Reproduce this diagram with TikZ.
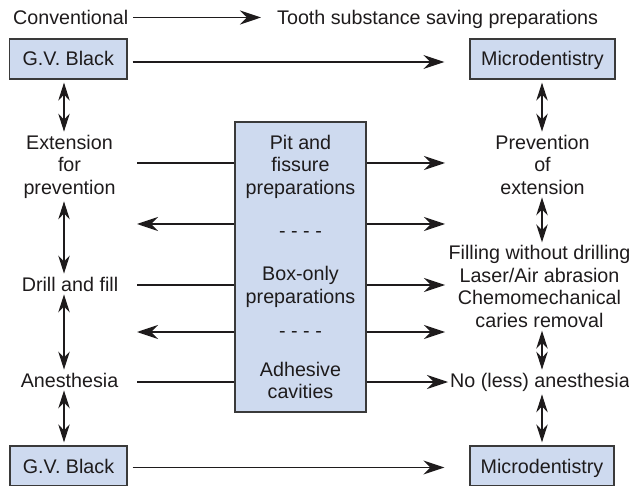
\documentclass[tikz,border=0pt]{standalone}
\usepackage{fontspec}
\setmainfont{Liberation Sans}
\usetikzlibrary{arrows.meta}
\definecolor{ink}{HTML}{1E1B1C}
\definecolor{boxfill}{RGB}{206,218,239}
\definecolor{edge}{HTML}{3A3A3A}
\begin{document}
\begin{tikzpicture}[x=1pt,y=-1pt,
  every node/.style={inner sep=0pt,text=ink,font=\fontsize{19.7}{22.5}\selectfont},
  lbl/.style={align=center},
  boxed/.style={draw=edge,fill=boxfill,line width=1.3pt,align=center,text height=14pt,text depth=0pt},
  ln/.style={draw=ink,line width=1.25pt},
  arr/.style={ln,-{Stealth[length=21pt,width=14pt,inset=7pt]}},
  dbl/.style={draw=ink,line width=1.1pt,{Stealth[length=18pt,width=11.5pt,inset=6pt]}-{Stealth[length=18pt,width=11.5pt,inset=6pt]},shorten <=3pt,shorten >=3pt}]
\useasboundingbox (0,0) rectangle (629,486);
\clip (0,0) rectangle (629,486);

% header
\node[lbl,anchor=west] (conv) at (13,17.5) {Conventional};
\node[lbl,anchor=west] (tooth) at (277,19.5) {Tooth substance saving preparations};

% boxes
\node[boxed,minimum width=117.5pt,minimum height=40pt] (gv1) at (68.25,59) {G.V. Black};
\node[boxed,minimum width=145pt,minimum height=40pt] (md1) at (542.5,59) {Microdentistry};
\node[boxed,minimum width=117pt,minimum height=40pt] (gv2) at (68.5,466) {G.V. Black};
\node[boxed,minimum width=144pt,minimum height=40pt] (md2) at (542,466) {Microdentistry};
\node[boxed,minimum width=131pt,minimum height=290pt] (cbox) at (300.5,267) {};

% centre texts
\node[lbl] (pit) at (300.5,166.5) {Pit and\\fissure\\preparations};
\node[lbl] (dash1) at (300.5,234) {- - - -};
\node[lbl] (boxonly) at (300.5,287) {Box-only\\preparations};
\node[lbl] (dash2) at (300.5,334) {- - - -};
\node[lbl] (adh) at (300.5,380.5) {Adhesive\\cavities};

% left column
\node[lbl] (ext) at (69.5,166.5) {Extension\\for\\prevention};
\node[lbl] (drill) at (70,284) {Drill and fill};
\node[lbl] (anes) at (69.5,380) {Anesthesia};

% right column
\node[lbl] (prev) at (542.5,164.5) {Prevention\\of\\extension};
\node[lbl] (fill) at (539.5,286.5) {Filling without drilling\\Laser/Air abrasion\\Chemomechanical\\caries removal};
\node[lbl] (noless) at (540,382) {No (less) anesthesia};

% coordinates
\coordinate (Lx) at (64,0);
\coordinate (Rx) at (542,0);
\coordinate (L1) at (137,163);
\coordinate (L2) at (137,224);
\coordinate (L3) at (137,285);
\coordinate (L4) at (137,332);
\coordinate (L5) at (137,382);
\coordinate (R1) at (445,163);
\coordinate (R2) at (445,224);
\coordinate (R3) at (445,285);
\coordinate (R4) at (445,332);
\coordinate (R5) at (448,382);

% top arrows
\draw[arr,shorten <=5pt,shorten >=1pt] (conv.east) -- (conv.east -| 262,0);
\draw[arr,shorten <=5pt,shorten >=25pt] ([yshift=-3pt]gv1.east) -- ([yshift=-3pt]gv1.east -| md1.west);
\draw[arr,shorten <=5pt,shorten >=25pt] ([yshift=-1.5pt]gv2.east) -- ([yshift=-1.5pt]gv2.east -| md2.west);

% left links
\draw[ln] (L1) -- (L1 -| cbox.west);
\draw[arr] (L2 -| cbox.west) -- (L2);
\draw[ln] (L3) -- (L3 -| cbox.west);
\draw[arr] (L4 -| cbox.west) -- (L4);
\draw[ln] (L5) -- (L5 -| cbox.west);

% right links
\draw[arr] (R1 -| cbox.east) -- (R1);
\draw[arr] (R2 -| cbox.east) -- (R2);
\draw[arr] (R3 -| cbox.east) -- (R3);
\draw[arr] (R4 -| cbox.east) -- (R4);
\draw[arr] (R5 -| cbox.east) -- (R5);

% vertical double arrows
\draw[dbl] (gv1.south -| Lx) -- (ext.north -| Lx);
\draw[dbl] (ext.south -| Lx) -- (drill.north -| Lx);
\draw[dbl] (drill.south -| Lx) -- (anes.north -| Lx);
\draw[dbl] (anes.south -| Lx) -- (gv2.north -| Lx);
\draw[dbl] (md1.south -| Rx) -- (prev.north -| Rx);
\draw[dbl] (prev.south -| Rx) -- (fill.north -| Rx);
\draw[dbl] (fill.south -| Rx) -- (noless.north -| Rx);
\draw[dbl] (noless.south -| Rx) -- (md2.north -| Rx);
\end{tikzpicture}
\end{document}
